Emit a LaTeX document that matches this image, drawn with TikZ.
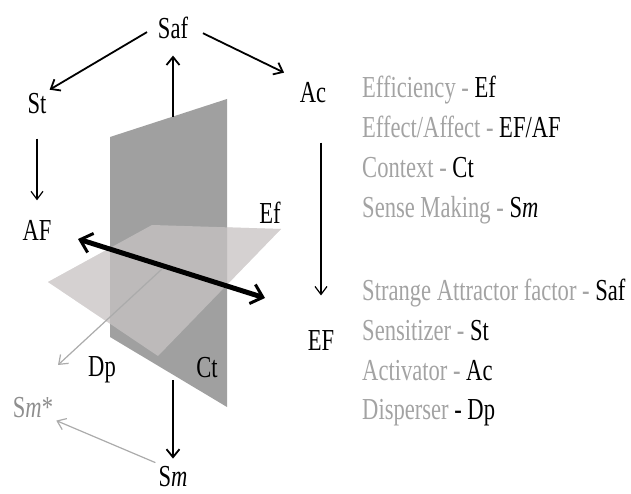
\documentclass[tikz,border=0pt]{standalone}
\usepackage{fontspec}
\setmainfont{Liberation Serif}[FakeStretch=0.74]
\usetikzlibrary{arrows.meta}

\definecolor{planedark}{HTML}{A0A0A0}
\definecolor{planelight}{HTML}{D5D1D1}
\definecolor{legendgray}{HTML}{A3A3A3}
\definecolor{arrowgray}{HTML}{ABABAB}
\definecolor{smgray}{HTML}{8E8E8E}

\begin{document}
\begin{tikzpicture}[x=1pt, y=-1pt,
        lbl/.style={font=\fontsize{30.5}{34}\selectfont, inner sep=3pt, anchor=base},
        legend/.style={font=\fontsize{30.5}{34}\selectfont, inner sep=0pt, anchor=base west, text=legendgray},
        arr/.style={-{Straight Barb[length=8pt, width=13pt]}, line width=1.8pt},
        thinarr/.style={-{Straight Barb[length=8pt, width=12pt]}, line width=1.2pt},
        grayarr/.style={thinarr, draw=arrowgray},
        bigarr/.style={{Straight Barb[length=11pt, width=20pt, line width=3pt]}-{Straight Barb[length=11pt, width=20pt, line width=3pt]}, line width=5pt}]
        \useasboundingbox (0,0) rectangle (631,494);

        % Adjust how much of the Ef plane shows through
        \def\planeOpacity{0.55}

        % Ef plane (horizontal), drawn first so it sits behind Ct
        \fill[planelight] (48,282) -- (152,225) -- (281,229) -- (158,356) -- cycle;

        % Ct plane (vertical)
        \fill[planedark] (110,137) -- (227,99) -- (227,407) -- (110,337) -- cycle;

        % Ef plane again, see-through over Ct
        \fill[planelight, fill opacity=\planeOpacity] (48,282) -- (152,225) -- (281,229) -- (158,356) -- cycle;

        % free ends on the planes
        \coordinate (ctop) at (173,117);
        \coordinate (cbot) at (173,380);
        \coordinate (afend) at (78,239);
        \coordinate (efend) at (265,298);
        \coordinate (dpstart) at (162,269);
        \coordinate (dpend) at (58,365);

        % Labels round the planes
        \node[lbl] (saf) at (173,38.1) {Saf};
        \node[lbl] (st) at (37,113.1) {St};
        \node[lbl] (ac) at (313,102.1) {Ac};
        \node[lbl] (af) at (37,240.1) {AF};
        \node[lbl] (ef) at (270,223.1) {Ef};
        \node[lbl] (efb) at (321,350.1) {EF};
        \node[lbl] (dp) at (102,376.1) {Dp};
        \node[lbl] (ct) at (207,377.1) {Ct};
        \node[lbl, text=smgray] (smstar) at (33,417.1) {S\textit{m}*};
        \node[lbl] (sm) at (173,486) {S\textit{m}};

        % Arrows
        \draw[arr, shorten <=9pt] (saf.west) -- (st.north east);
        \draw[arr, shorten <=13pt, shorten >=14pt] (saf.east) -- (ac.north west);
        \draw[arr, shorten >=14pt] (ctop) -- (saf.south);
        \draw[thinarr, shorten <=22pt, shorten >=16.5pt] (st.south) -- (af.north);
        \draw[thinarr, shorten <=37pt, shorten >=31.5pt] (ac.south -| efb.north) -- (efb.north);
        \draw[bigarr] (afend) -- (efend);
        \draw[grayarr] (dpstart) -- (dpend);
        \draw[arr, shorten >=4pt] (cbot) -- (sm.north);
        \draw[grayarr] (sm.north west) -- (smstar.south east);

        % Legend
        \node[legend] (leg1) at (362,98) {Efficiency - \textcolor{black}{Ef}};
        \node[legend] (leg2) at (362,138) {Effect/Affect - \textcolor{black}{EF/AF}};
        \node[legend] (leg3) at (362,178) {Context - \textcolor{black}{Ct}};
        \node[legend] (leg4) at (362,218) {Sense Making - \textcolor{black}{S\textit{m}}};
        \node[legend] (leg5) at (362,300) {Strange Attractor factor - \textcolor{black}{Saf}};
        \node[legend] (leg6) at (362,340) {Sensitizer - \textcolor{black}{St}};
        \node[legend] (leg7) at (362,380) {Activator - \textcolor{black}{Ac}};
        \node[legend] (leg8) at (362,419) {Disperser \textcolor{black}{- Dp}};

\end{tikzpicture}
\end{document}
